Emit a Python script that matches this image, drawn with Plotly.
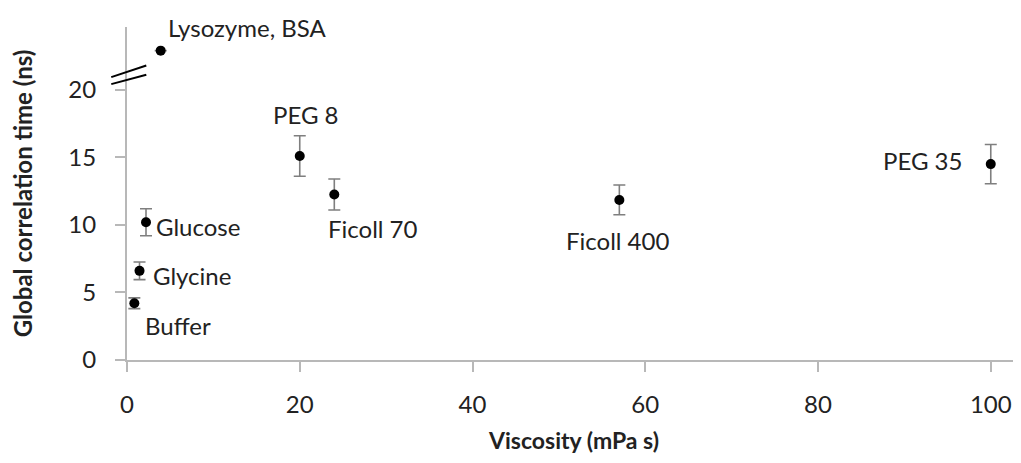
import plotly.graph_objects as go

# ---- data ----
samples = ["Buffer", "Glycine", "Glucose", "Lysozyme, BSA", "PEG 8", "Ficoll 70", "Ficoll 400", "PEG 35"]
viscosity = [0.85, 1.45, 2.2, 3.9, 20.0, 24.0, 57.0, 100.0]
corr_time = [4.2, 6.6, 10.2, 22.9, 15.1, 12.25, 11.85, 14.5]
corr_err = [0.4, 0.65, 1.0, 0.0, 1.5, 1.15, 1.1, 1.45]

x_ticks = [0, 20, 40, 60, 80, 100]
y_ticks = [0, 5, 10, 15, 20]

# label placement styles (pixel offsets / anchors), not data
label_style = {
    "Buffer": dict(xanchor="left", xshift=9, yshift=-22),
    "Glycine": dict(xanchor="left", xshift=11, yshift=-5),
    "Glucose": dict(xanchor="left", xshift=8, yshift=-4),
    "Lysozyme, BSA": dict(xanchor="left", xshift=5, yshift=23),
    "PEG 8": dict(xanchor="center", xshift=6, yshift=42),
    "Ficoll 70": dict(xanchor="left", xshift=-8, yshift=-34),
    "Ficoll 400": dict(xanchor="center", xshift=-2, yshift=-41),
    "PEG 35": dict(xanchor="right", xshift=-27, yshift=4),
}

FONT = "Lato"
TXT = "#222222"
AXC = "#b8b8b8"

fig = go.Figure()
fig.add_trace(go.Scatter(
    x=viscosity, y=corr_time, mode="markers",
    marker=dict(color="black", size=10),
    error_y=dict(type="data", array=corr_err, visible=True,
                 color="#7f7f7f", thickness=1.6, width=6),
    showlegend=False, hoverinfo="skip",
))

for name, xv, yv in zip(samples, viscosity, corr_time):
    st = label_style[name]
    fig.add_annotation(x=xv, y=yv, text=name, showarrow=False,
                       yanchor="middle", font=dict(family=FONT, size=24, color=TXT),
                       **st)

# axis break marks
for y0, y1 in [(20.94, 21.8), (20.42, 21.11)]:
    fig.add_shape(type="line", xref="x domain", yref="y",
                  x0=-0.0176, x1=0.0216, y0=y0, y1=y1,
                  line=dict(color="black", width=2))

fig.update_layout(
    width=1021, height=463,
    margin=dict(l=119, r=8, t=19, b=111),
    paper_bgcolor="white", plot_bgcolor="white",
    font=dict(family=FONT, color=TXT),
)
fig.update_xaxes(
    range=[0, 103.5], tickvals=x_ticks, ticktext=[str(v) for v in x_ticks],
    showgrid=False, zeroline=False, showline=True, linecolor=AXC, linewidth=2,
    ticks="outside", ticklen=10, tickwidth=2, tickcolor=AXC, automargin=False,
    tickfont=dict(family=FONT, size=24, color=TXT), ticklabelstandoff=12,
    title=dict(text="<b>Viscosity (mPa s)</b>", font=dict(family=FONT, size=23, color=TXT), standoff=16),
)
fig.update_yaxes(
    range=[0, 24.65], tickvals=y_ticks, ticktext=[str(v) for v in y_ticks],
    showgrid=False, zeroline=False, showline=True, linecolor=AXC, linewidth=2,
    ticks="outside", ticklen=10, tickwidth=2, tickcolor=AXC, automargin=False,
    tickfont=dict(family=FONT, size=24, color=TXT), ticklabelstandoff=14,
    title=dict(text="<b>Global correlation time (ns)</b>", font=dict(family=FONT, size=24, color=TXT), standoff=29),
)

fig.write_html("out.html")
